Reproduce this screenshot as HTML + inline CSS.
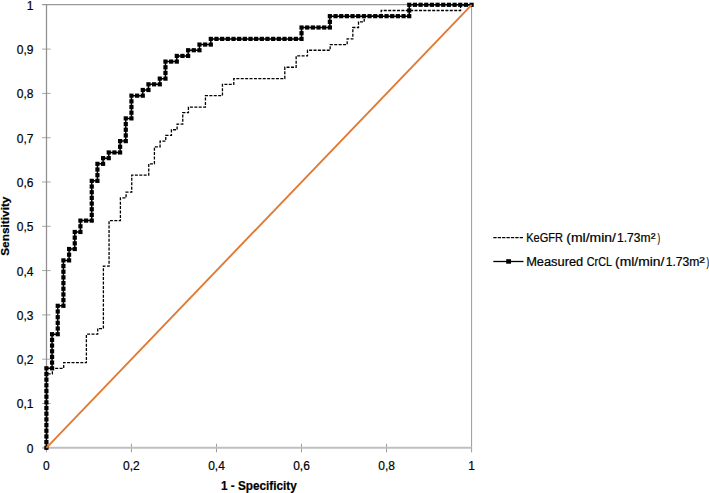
<!DOCTYPE html>
<html><head><meta charset="utf-8"><style>
html,body{margin:0;padding:0;background:#fff;width:709px;height:493px;overflow:hidden}
svg{display:block}
</style></head><body>
<svg width="709" height="493" viewBox="0 0 709 493">
<rect width="709" height="493" fill="#fff"/>
<g fill="none" stroke-linecap="butt">
<path d="M42.1,4.55H471.6" stroke="#999" stroke-width="1.2"/>
<path d="M471.6,4.5V452.3" stroke="#999" stroke-width="1"/>
<path d="M42.1,447.80H50.6M42.1,403.50H50.6M42.1,359.20H50.6M42.1,314.90H50.6M42.1,270.60H50.6M42.1,226.30H50.6M42.1,182.00H50.6M42.1,137.70H50.6M42.1,93.40H50.6M42.1,49.10H50.6" stroke="#a6a6a6" stroke-width="1"/>
<path d="M46.5,4.5V447.8" stroke="#8e8e8e" stroke-width="1.25"/>
<path d="M46.40,443.8V452.3M131.44,443.8V452.3M216.48,443.8V452.3M301.52,443.8V452.3M386.56,443.8V452.3" stroke="#9a9a9a" stroke-width="1"/>
<path d="M42.1,447.8H471.6" stroke="#bfbfbf" stroke-width="2"/>
</g>
<path transform="translate(0.3,0)" d="M46.40,447.80 L46.40,373.97 L52.07,373.97 L52.07,368.29 L63.41,368.29 L63.41,362.61 L86.09,362.61 L86.09,334.21 L97.42,334.21 L97.42,328.53 L103.09,328.53 L103.09,266.06 L108.76,266.06 L108.76,220.62 L120.10,220.62 L120.10,197.90 L125.77,197.90 L125.77,192.22 L131.44,192.22 L131.44,175.18 L148.45,175.18 L148.45,163.83 L154.12,163.83 L154.12,146.79 L159.79,146.79 L159.79,141.11 L165.46,141.11 L165.46,135.43 L171.13,135.43 L171.13,129.75 L176.79,129.75 L176.79,124.07 L182.46,124.07 L182.46,112.71 L188.13,112.71 L188.13,107.03 L205.14,107.03 L205.14,95.67 L222.15,95.67 L222.15,84.31 L233.49,84.31 L233.49,78.63 L284.51,78.63 L284.51,67.27 L295.85,67.27 L295.85,55.92 L307.19,55.92 L307.19,50.24 L329.87,50.24 L329.87,44.56 L346.87,44.56 L346.87,38.88 L352.54,38.88 L352.54,27.52 L358.21,27.52 L358.21,21.84 L363.88,21.84 L363.88,16.16 L380.89,16.16 L380.89,10.48 L460.26,10.48 L460.26,4.80 L471.60,4.80" fill="none" stroke="#000" stroke-width="1.3" stroke-dasharray="3 1.4"/>
<path d="M46.40,447.80 L46.40,368.29 L52.07,368.29 L52.07,334.21 L57.74,334.21 L57.74,305.81 L63.41,305.81 L63.41,260.38 L69.08,260.38 L69.08,249.02 L74.75,249.02 L74.75,231.98 L80.42,231.98 L80.42,220.62 L91.75,220.62 L91.75,180.86 L97.42,180.86 L97.42,163.83 L103.09,163.83 L103.09,158.15 L108.76,158.15 L108.76,152.47 L120.10,152.47 L120.10,141.11 L125.77,141.11 L125.77,118.39 L131.44,118.39 L131.44,95.67 L142.78,95.67 L142.78,89.99 L148.45,89.99 L148.45,84.31 L159.79,84.31 L159.79,78.63 L165.46,78.63 L165.46,61.59 L176.79,61.59 L176.79,55.92 L188.13,55.92 L188.13,50.24 L199.47,50.24 L199.47,44.56 L210.81,44.56 L210.81,38.88 L301.52,38.88 L301.52,27.52 L329.87,27.52 L329.87,16.16 L409.24,16.16 L409.24,4.80 L471.60,4.80" fill="none" stroke="#000" stroke-width="1.5"/>
<g fill="#000"><rect x="44.30" y="445.70" width="4.2" height="4.2"/><rect x="44.30" y="440.02" width="4.2" height="4.2"/><rect x="44.30" y="434.34" width="4.2" height="4.2"/><rect x="44.30" y="428.66" width="4.2" height="4.2"/><rect x="44.30" y="422.98" width="4.2" height="4.2"/><rect x="44.30" y="417.30" width="4.2" height="4.2"/><rect x="44.30" y="411.62" width="4.2" height="4.2"/><rect x="44.30" y="405.94" width="4.2" height="4.2"/><rect x="44.30" y="400.26" width="4.2" height="4.2"/><rect x="44.30" y="394.58" width="4.2" height="4.2"/><rect x="44.30" y="388.91" width="4.2" height="4.2"/><rect x="44.30" y="383.23" width="4.2" height="4.2"/><rect x="44.30" y="377.55" width="4.2" height="4.2"/><rect x="44.30" y="371.87" width="4.2" height="4.2"/><rect x="44.30" y="366.19" width="4.2" height="4.2"/><rect x="49.97" y="366.19" width="4.2" height="4.2"/><rect x="49.97" y="360.51" width="4.2" height="4.2"/><rect x="49.97" y="354.83" width="4.2" height="4.2"/><rect x="49.97" y="349.15" width="4.2" height="4.2"/><rect x="49.97" y="343.47" width="4.2" height="4.2"/><rect x="49.97" y="337.79" width="4.2" height="4.2"/><rect x="49.97" y="332.11" width="4.2" height="4.2"/><rect x="55.64" y="332.11" width="4.2" height="4.2"/><rect x="55.64" y="326.43" width="4.2" height="4.2"/><rect x="55.64" y="320.75" width="4.2" height="4.2"/><rect x="55.64" y="315.07" width="4.2" height="4.2"/><rect x="55.64" y="309.39" width="4.2" height="4.2"/><rect x="55.64" y="303.71" width="4.2" height="4.2"/><rect x="61.31" y="303.71" width="4.2" height="4.2"/><rect x="61.31" y="298.03" width="4.2" height="4.2"/><rect x="61.31" y="292.35" width="4.2" height="4.2"/><rect x="61.31" y="286.67" width="4.2" height="4.2"/><rect x="61.31" y="280.99" width="4.2" height="4.2"/><rect x="61.31" y="275.32" width="4.2" height="4.2"/><rect x="61.31" y="269.64" width="4.2" height="4.2"/><rect x="61.31" y="263.96" width="4.2" height="4.2"/><rect x="61.31" y="258.28" width="4.2" height="4.2"/><rect x="66.98" y="258.28" width="4.2" height="4.2"/><rect x="66.98" y="252.60" width="4.2" height="4.2"/><rect x="66.98" y="246.92" width="4.2" height="4.2"/><rect x="72.65" y="246.92" width="4.2" height="4.2"/><rect x="72.65" y="241.24" width="4.2" height="4.2"/><rect x="72.65" y="235.56" width="4.2" height="4.2"/><rect x="72.65" y="229.88" width="4.2" height="4.2"/><rect x="78.32" y="229.88" width="4.2" height="4.2"/><rect x="78.32" y="224.20" width="4.2" height="4.2"/><rect x="78.32" y="218.52" width="4.2" height="4.2"/><rect x="83.99" y="218.52" width="4.2" height="4.2"/><rect x="89.65" y="218.52" width="4.2" height="4.2"/><rect x="89.65" y="212.84" width="4.2" height="4.2"/><rect x="89.65" y="207.16" width="4.2" height="4.2"/><rect x="89.65" y="201.48" width="4.2" height="4.2"/><rect x="89.65" y="195.80" width="4.2" height="4.2"/><rect x="89.65" y="190.12" width="4.2" height="4.2"/><rect x="89.65" y="184.44" width="4.2" height="4.2"/><rect x="89.65" y="178.76" width="4.2" height="4.2"/><rect x="95.32" y="178.76" width="4.2" height="4.2"/><rect x="95.32" y="173.08" width="4.2" height="4.2"/><rect x="95.32" y="167.41" width="4.2" height="4.2"/><rect x="95.32" y="161.73" width="4.2" height="4.2"/><rect x="100.99" y="161.73" width="4.2" height="4.2"/><rect x="100.99" y="156.05" width="4.2" height="4.2"/><rect x="106.66" y="156.05" width="4.2" height="4.2"/><rect x="106.66" y="150.37" width="4.2" height="4.2"/><rect x="112.33" y="150.37" width="4.2" height="4.2"/><rect x="118.00" y="150.37" width="4.2" height="4.2"/><rect x="118.00" y="144.69" width="4.2" height="4.2"/><rect x="118.00" y="139.01" width="4.2" height="4.2"/><rect x="123.67" y="139.01" width="4.2" height="4.2"/><rect x="123.67" y="133.33" width="4.2" height="4.2"/><rect x="123.67" y="127.65" width="4.2" height="4.2"/><rect x="123.67" y="121.97" width="4.2" height="4.2"/><rect x="123.67" y="116.29" width="4.2" height="4.2"/><rect x="129.34" y="116.29" width="4.2" height="4.2"/><rect x="129.34" y="110.61" width="4.2" height="4.2"/><rect x="129.34" y="104.93" width="4.2" height="4.2"/><rect x="129.34" y="99.25" width="4.2" height="4.2"/><rect x="129.34" y="93.57" width="4.2" height="4.2"/><rect x="135.01" y="93.57" width="4.2" height="4.2"/><rect x="140.68" y="93.57" width="4.2" height="4.2"/><rect x="140.68" y="87.89" width="4.2" height="4.2"/><rect x="146.35" y="87.89" width="4.2" height="4.2"/><rect x="146.35" y="82.21" width="4.2" height="4.2"/><rect x="152.02" y="82.21" width="4.2" height="4.2"/><rect x="157.69" y="82.21" width="4.2" height="4.2"/><rect x="157.69" y="76.53" width="4.2" height="4.2"/><rect x="163.36" y="76.53" width="4.2" height="4.2"/><rect x="163.36" y="70.85" width="4.2" height="4.2"/><rect x="163.36" y="65.17" width="4.2" height="4.2"/><rect x="163.36" y="59.49" width="4.2" height="4.2"/><rect x="169.03" y="59.49" width="4.2" height="4.2"/><rect x="174.69" y="59.49" width="4.2" height="4.2"/><rect x="174.69" y="53.82" width="4.2" height="4.2"/><rect x="180.36" y="53.82" width="4.2" height="4.2"/><rect x="186.03" y="53.82" width="4.2" height="4.2"/><rect x="186.03" y="48.14" width="4.2" height="4.2"/><rect x="191.70" y="48.14" width="4.2" height="4.2"/><rect x="197.37" y="48.14" width="4.2" height="4.2"/><rect x="197.37" y="42.46" width="4.2" height="4.2"/><rect x="203.04" y="42.46" width="4.2" height="4.2"/><rect x="208.71" y="42.46" width="4.2" height="4.2"/><rect x="208.71" y="36.78" width="4.2" height="4.2"/><rect x="214.38" y="36.78" width="4.2" height="4.2"/><rect x="220.05" y="36.78" width="4.2" height="4.2"/><rect x="225.72" y="36.78" width="4.2" height="4.2"/><rect x="231.39" y="36.78" width="4.2" height="4.2"/><rect x="237.06" y="36.78" width="4.2" height="4.2"/><rect x="242.73" y="36.78" width="4.2" height="4.2"/><rect x="248.40" y="36.78" width="4.2" height="4.2"/><rect x="254.07" y="36.78" width="4.2" height="4.2"/><rect x="259.73" y="36.78" width="4.2" height="4.2"/><rect x="265.40" y="36.78" width="4.2" height="4.2"/><rect x="271.07" y="36.78" width="4.2" height="4.2"/><rect x="276.74" y="36.78" width="4.2" height="4.2"/><rect x="282.41" y="36.78" width="4.2" height="4.2"/><rect x="288.08" y="36.78" width="4.2" height="4.2"/><rect x="293.75" y="36.78" width="4.2" height="4.2"/><rect x="299.42" y="36.78" width="4.2" height="4.2"/><rect x="299.42" y="31.10" width="4.2" height="4.2"/><rect x="299.42" y="25.42" width="4.2" height="4.2"/><rect x="305.09" y="25.42" width="4.2" height="4.2"/><rect x="310.76" y="25.42" width="4.2" height="4.2"/><rect x="316.43" y="25.42" width="4.2" height="4.2"/><rect x="322.10" y="25.42" width="4.2" height="4.2"/><rect x="327.77" y="25.42" width="4.2" height="4.2"/><rect x="327.77" y="19.74" width="4.2" height="4.2"/><rect x="327.77" y="14.06" width="4.2" height="4.2"/><rect x="333.44" y="14.06" width="4.2" height="4.2"/><rect x="339.11" y="14.06" width="4.2" height="4.2"/><rect x="344.77" y="14.06" width="4.2" height="4.2"/><rect x="350.44" y="14.06" width="4.2" height="4.2"/><rect x="356.11" y="14.06" width="4.2" height="4.2"/><rect x="361.78" y="14.06" width="4.2" height="4.2"/><rect x="367.45" y="14.06" width="4.2" height="4.2"/><rect x="373.12" y="14.06" width="4.2" height="4.2"/><rect x="378.79" y="14.06" width="4.2" height="4.2"/><rect x="384.46" y="14.06" width="4.2" height="4.2"/><rect x="390.13" y="14.06" width="4.2" height="4.2"/><rect x="395.80" y="14.06" width="4.2" height="4.2"/><rect x="401.47" y="14.06" width="4.2" height="4.2"/><rect x="407.14" y="14.06" width="4.2" height="4.2"/><rect x="407.14" y="8.38" width="4.2" height="4.2"/><rect x="407.14" y="2.70" width="4.2" height="4.2"/><rect x="412.81" y="2.70" width="4.2" height="4.2"/><rect x="418.48" y="2.70" width="4.2" height="4.2"/><rect x="424.15" y="2.70" width="4.2" height="4.2"/><rect x="429.81" y="2.70" width="4.2" height="4.2"/><rect x="435.48" y="2.70" width="4.2" height="4.2"/><rect x="441.15" y="2.70" width="4.2" height="4.2"/><rect x="446.82" y="2.70" width="4.2" height="4.2"/><rect x="452.49" y="2.70" width="4.2" height="4.2"/><rect x="458.16" y="2.70" width="4.2" height="4.2"/><rect x="463.83" y="2.70" width="4.2" height="4.2"/><rect x="469.50" y="2.70" width="4.2" height="4.2"/></g>
<path d="M46.4,447.8L471.6,4.8" stroke="#E07A35" stroke-width="1.9" fill="none"/>
<g font-family="Liberation Sans, sans-serif" font-size="12" fill="#000" stroke="#000" stroke-width="0.2">
<text x="33.4" y="452.70" text-anchor="end">0</text><text x="33.4" y="408.40" text-anchor="end">0,1</text><text x="33.4" y="364.10" text-anchor="end">0,2</text><text x="33.4" y="319.80" text-anchor="end">0,3</text><text x="33.4" y="275.50" text-anchor="end">0,4</text><text x="33.4" y="231.20" text-anchor="end">0,5</text><text x="33.4" y="186.90" text-anchor="end">0,6</text><text x="33.4" y="142.60" text-anchor="end">0,7</text><text x="33.4" y="98.30" text-anchor="end">0,8</text><text x="33.4" y="54.00" text-anchor="end">0,9</text><text x="33.4" y="9.70" text-anchor="end">1</text>
<text x="46.40" y="470.2" text-anchor="middle">0</text><text x="131.44" y="470.2" text-anchor="middle">0,2</text><text x="216.48" y="470.2" text-anchor="middle">0,4</text><text x="301.52" y="470.2" text-anchor="middle">0,6</text><text x="386.56" y="470.2" text-anchor="middle">0,8</text><text x="471.60" y="470.2" text-anchor="middle">1</text>
</g>
<path d="M493.3,237.6H523.8" stroke="#000" stroke-width="1.3" stroke-dasharray="3.3 1.1" fill="none"/>
<path d="M493.3,261.5H523.5" stroke="#000" stroke-width="1.3" fill="none"/>
<rect x="506.2" y="259.2" width="4.8" height="4.5" fill="#000"/>
<g font-family="Liberation Sans, sans-serif" fill="#000" stroke="#000" stroke-width="0.2"><text x="220.96" y="490.4" font-size="12" font-weight="bold" textLength="75.80" lengthAdjust="spacingAndGlyphs">1 - Specificity</text><text x="526.20" y="241.5" font-size="12" font-weight="normal" textLength="36.71" lengthAdjust="spacingAndGlyphs">KeGFR</text><text x="566.33" y="241.5" font-size="12" font-weight="normal" textLength="49.67" lengthAdjust="spacingAndGlyphs">(ml/min/</text><text x="616.98" y="241.5" font-size="12" font-weight="normal" textLength="33.51" lengthAdjust="spacingAndGlyphs">1.73m</text><text x="650.71" y="241.5" font-size="12" font-weight="normal" textLength="4.76" lengthAdjust="spacingAndGlyphs">²</text><text x="657.55" y="241.5" font-size="12" font-weight="normal" textLength="2.64" lengthAdjust="spacingAndGlyphs">)</text><text x="526.15" y="265.5" font-size="12" font-weight="normal" textLength="57.08" lengthAdjust="spacingAndGlyphs">Measured</text><text x="586.85" y="265.5" font-size="12" font-weight="normal" textLength="25.10" lengthAdjust="spacingAndGlyphs">CrCL</text><text x="615.14" y="265.5" font-size="12" font-weight="normal" textLength="49.26" lengthAdjust="spacingAndGlyphs">(ml/min/</text><text x="665.67" y="265.5" font-size="12" font-weight="normal" textLength="33.83" lengthAdjust="spacingAndGlyphs">1.73m</text><text x="699.37" y="265.5" font-size="12" font-weight="normal" textLength="5.55" lengthAdjust="spacingAndGlyphs">²</text><text x="706.55" y="265.5" font-size="12" font-weight="normal" textLength="2.64" lengthAdjust="spacingAndGlyphs">)</text><text transform="translate(9.2,255.84) rotate(-90)" font-size="11.5" font-weight="bold" textLength="59.31" lengthAdjust="spacingAndGlyphs">Sensitivity</text></g>
</svg>
</body></html>
